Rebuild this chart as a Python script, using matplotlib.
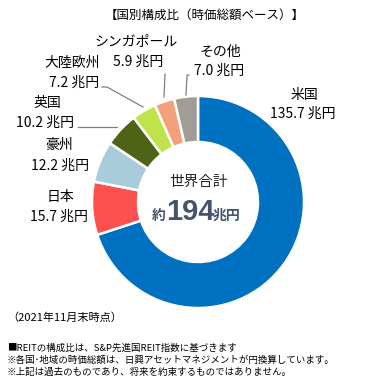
import matplotlib
matplotlib.use("Agg")
import matplotlib.pyplot as plt

plt.rcParams['font.family'] = ['Noto Sans CJK JP', 'DejaVu Sans']

categories = ["米国", "日本", "豪州", "英国", "大陸欧州", "シンガポール", "その他"]
values = [135.7, 15.7, 12.2, 10.2, 7.2, 5.9, 7.0]
colors = ["#0070C0", "#FF5050", "#A9CCDA", "#4F6317", "#BFE34B", "#F4A07A", "#A09C96"]
value_labels = [f"{v:.1f} 兆円" for v in values]

W, H = 365, 383
fig = plt.figure(figsize=(W / 100, H / 100), dpi=100)
ax = fig.add_axes([0, 0, 1, 1])
ax.set_xlim(0, W)
ax.set_ylim(0, H)
ax.set_aspect('equal')
ax.axis('off')

def Y(y):
    return H - y

cx, cy, R = 198, 202, 106
ax.pie(values, colors=colors, startangle=90, counterclock=False,
       radius=R, center=(cx, Y(cy)),
       wedgeprops=dict(width=46, edgecolor='white', linewidth=1.8))
ax.set_xlim(0, W)
ax.set_ylim(0, H)

# title
ax.text(205, Y(15), "【国別構成比（時価総額ベース）】", ha='center', va='center', fontsize=9)

# labels (name position, value position)
label_pos = {
    "米国": ((304, 95), (303, 114)),
    "日本": ((60, 197), (59, 217)),
    "豪州": ((59, 145), (60, 166)),
    "英国": ((47, 103), (45, 123)),
    "大陸欧州": ((72, 63), (74, 83)),
    "シンガポール": ((136, 42), (138, 62)),
    "その他": ((220, 52), (219, 71)),
}
for cat, vl in zip(categories, value_labels):
    (nx, ny), (vx, vy) = label_pos[cat]
    ax.text(nx, Y(ny), cat, ha='center', va='center', fontsize=10)
    ax.text(vx, Y(vy), vl, ha='center', va='center', fontsize=10)

# leader lines
lc = '#808080'
ax.plot([78, 117], [Y(127), Y(127)], color=lc, lw=0.9)
ax.plot([102, 107, 143], [Y(87), Y(87), Y(107)], color=lc, lw=0.9)
ax.plot([165, 164], [Y(74), Y(97)], color=lc, lw=0.9)
ax.plot([189, 187, 186], [Y(75), Y(75), Y(95)], color=lc, lw=0.9)

# center text
ax.text(198, Y(182), "世界合計", ha='center', va='center', fontsize=10.5, color='#222222')
tc = '#44546A'
ax.text(166, Y(220), "約", ha='right', va='baseline', fontsize=10, fontweight='bold', color=tc)
ax.text(190, Y(220), "194", ha='center', va='baseline', fontsize=21, fontweight='bold', color=tc,
        family=['Liberation Sans', 'DejaVu Sans'])
ax.text(213, Y(220), "兆円", ha='left', va='baseline', fontsize=10, fontweight='bold', color=tc)

# date
ax.text(7, Y(318), "（2021年11月末時点）", ha='left', va='center', fontsize=8)

# footnotes
notes = [
    "■REITの構成比は、S&P先進国REIT指数に基づきます",
    "※各国･地域の時価総額は、日興アセットマネジメントが円換算しています。",
    "※上記は過去のものであり、将来を約束するものではありません。",
]
for i, n in enumerate(notes):
    ax.text(7, Y(348 + 12 * i), n, ha='left', va='center', fontsize=6.8)

fig.savefig("out.png", dpi=100)
